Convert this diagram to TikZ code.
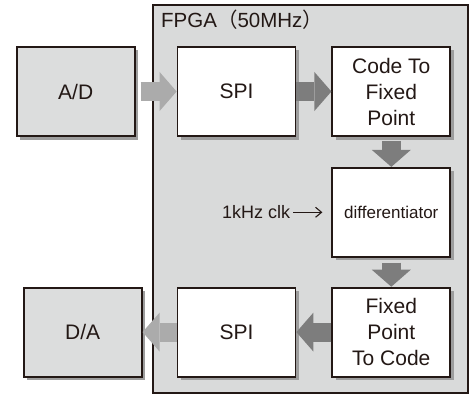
\documentclass[tikz,border=0pt]{standalone}
\usepackage{fontspec}
\setmainfont{Liberation Sans}
\newfontfamily\cjk{Noto Sans CJK SC}
\usetikzlibrary{arrows.meta, positioning, shadows}
\definecolor{boardInk}{HTML}{231815}
\definecolor{fpgaGray}{HTML}{D9DADA}
\definecolor{convGray}{HTML}{DCDDDD}
\definecolor{shadowGray}{HTML}{9D9D9D}
\definecolor{lightArrow}{HTML}{ABABAB}
\definecolor{darkArrow}{HTML}{7D7D7D}

\begin{document}
\begin{tikzpicture}[x=1pt, y=-1pt, node distance=35pt,
    every node/.style={text=boardInk},
    blk/.style={draw=boardInk, line width=1.8pt, fill=white, minimum width=118pt, minimum height=89pt, inner sep=0pt, align=center, font=\fontsize{21}{26}\selectfont, drop shadow={shadow xshift=3.5pt, shadow yshift=-3.5pt, fill=shadowGray, opacity=1}},
    conv/.style={blk, fill=convGray},
    fat/.style={line width=19pt, -{Triangle[length=17pt, width=39pt, line width=0pt]}}]
    \useasboundingbox (0,0) rectangle (471,396);

    \node[draw=boardInk, line width=2pt, fill=fpgaGray, minimum width=315pt, minimum height=388pt] (fpga) at (310.5,199) {};
    \node[anchor=base west, inner sep=0pt, font=\fontsize{20.5}{24}\selectfont] (fpgalbl) at (161,28) {FPGA{\cjk （}50MHz{\cjk ）}};

    \node[blk] (spiin) at (236.5,91.5) {SPI};
    \node[blk, right=of spiin] (c2f) {Code To\\Fixed\\Point};
    \node[blk, below=30pt of c2f, font=\fontsize{17}{20}\selectfont] (diff) {differentiator};
    \node[blk, below=29pt of diff] (f2c) {Fixed\\Point\\To Code};
    \node[blk, left=of f2c] (spiout) {SPI};
    \node[conv, left=41pt of spiin] (ad) {A/D};
    \node[conv, left=34pt of spiout] (da) {D/A};
    \node[left=41pt of diff, inner sep=0pt, font=\fontsize{18}{20}\selectfont] (clk) {1kHz clk};

    \draw[fat, lightArrow] ([xshift=5pt]ad.east) -- (spiin.west);
    \draw[fat, darkArrow] (spiin.east) -- (c2f.west);
    \draw[fat, darkArrow] ([yshift=-4pt]c2f.south) -- (diff.north);
    \draw[fat, darkArrow] ([yshift=-5pt]diff.south) -- (f2c.north);
    \draw[fat, darkArrow] (f2c.west) -- (spiout.east);
    \draw[fat, lightArrow] (spiout.west) -- (da.east);
    \draw[-{Straight Barb[length=6pt, width=10pt]}, boardInk, line width=1.1pt, shorten <=3pt, shorten >=9pt] (clk) -- (diff);
\end{tikzpicture}
\end{document}
